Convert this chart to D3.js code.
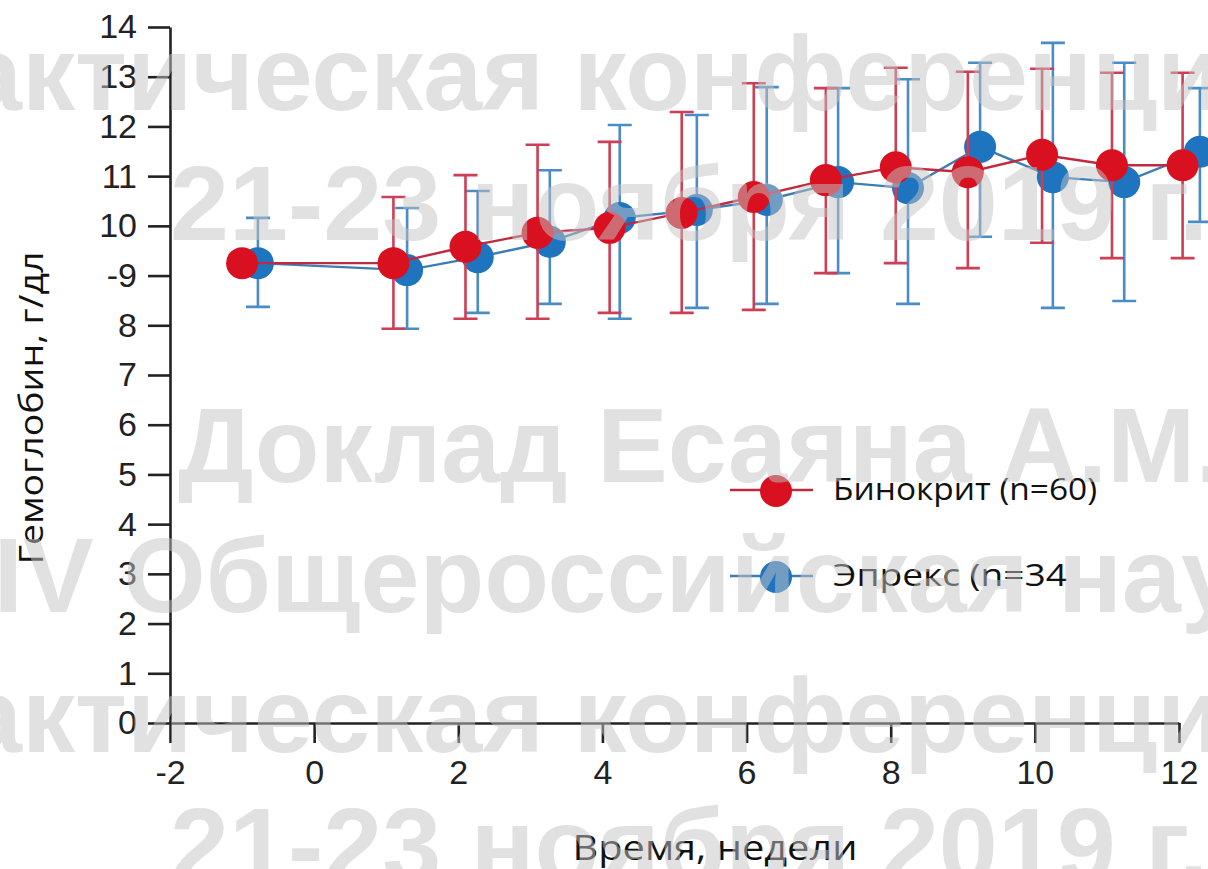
<!DOCTYPE html>
<html>
<head>
<meta charset="utf-8">
<script src="https://cdn.jsdelivr.net/npm/d3@7"></script>
<style>
  body { margin: 0; background: #fff; }
  svg { display: block; }
</style>
</head>
<body>
<div id="chart"></div>
<script>
// Бинокрит (n=60)
const weeksBino = [-1, 1.1, 2.1, 3.1, 4.1, 5.1, 6.1, 7.1, 8.07, 9.07, 10.1, 11.07, 12.05];
const hbBino    = [9.25, 9.25, 9.58, 9.86, 9.96, 10.26, 10.58, 10.92, 11.18, 11.08, 11.43, 11.22, 11.22];
const hbBinoHi  = [null, 10.58, 11.02, 11.63, 11.69, 12.29, 12.87, 12.77, 13.18, 13.10, 13.16, 13.08, 13.08];
const hbBinoLo  = [null, 7.93, 8.13, 8.13, 8.25, 8.25, 8.31, 9.05, 9.25, 9.15, 9.66, 9.35, 9.35];

// Эпрекс (n=34)
const weeksEpr = [-0.78, 1.29, 2.27, 3.27, 4.24, 5.31, 6.28, 7.27, 8.24, 9.24, 10.25, 11.24, 12.29];
const hbEpr    = [9.25, 9.11, 9.37, 9.68, 10.16, 10.32, 10.52, 10.88, 10.76, 11.59, 10.98, 10.88, 11.49];
const hbEprHi  = [10.16, 10.36, 10.70, 11.12, 12.03, 12.23, 12.79, 12.77, 12.95, 13.28, 13.68, 13.28, 12.77];
const hbEprLo  = [8.37, 7.93, 8.25, 8.43, 8.13, 8.35, 8.43, 9.05, 8.43, 9.78, 8.35, 8.49, 10.08];

const xTickValues = [-2, 0, 2, 4, 6, 8, 10, 12];
const xTickLabels = ['-2', '0', '2', '4', '6', '8', '10', '12'];
const yTickLabels = ['0', '1', '2', '3', '4', '5', '6', '7', '8', '-9', '10', '11', '12', '13', '14'];

const seriesNames = ['Бинокрит (n=60)', 'Эпрекс (n=34'];
const xTitle = 'Время,  недели';
const yTitle = 'Гемоглобин, г/дл';

const watermarkLines = [
  'научно-практическая конференция',
  '21-23 ноября 2019 г.',
  'Доклад Есаяна А.М.',
  'IV Общероссийская научно-практическая'
];

const width = 1208;
const height = 869;

const svg = d3.select('#chart')
  .append('svg')
    .attr('width', width)
    .attr('height', height);

const x = d3.scaleLinear().domain([-2, 12]).range([170, 1179]);
const y = d3.scaleLinear().domain([0, 14]).range([723, 27]);

// axes
const axisFont = 'Liberation Sans, Arial, sans-serif';

svg.append('g')
    .attr('transform', 'translate(170,0)')
    .call(d3.axisLeft(y)
      .tickValues(d3.range(15))
      .tickFormat(d => yTickLabels[d])
      .tickSize(22)
      .tickSizeOuter(0)
      .tickPadding(11))
    .call(g => g.selectAll('text').attr('font-size', 34).attr('font-family', axisFont).attr('fill', '#222'));

svg.append('g')
    .attr('transform', 'translate(0,723)')
    .call(d3.axisBottom(x)
      .tickValues(xTickValues)
      .tickFormat((d, i) => xTickLabels[i])
      .tickSize(20)
      .tickSizeOuter(0)
      .tickPadding(17))
    .call(g => g.selectAll('text').attr('font-size', 34).attr('font-family', axisFont).attr('fill', '#222'));

svg.selectAll('.domain, .tick line')
  .attr('stroke', '#222')
  .attr('stroke-width', 2.6);

// series
const drawSeries = (xs, ys, hi, lo, c) => {
  const g = svg.append('g');
  const pts = xs.map((d, i) => ({x: d, y: ys[i], hi: hi[i], lo: lo[i]}));
  const withErr = pts.filter(d => d.hi != null);

  g.selectAll('.err')
    .data(withErr)
    .enter()
      .append('path')
      .attr('class', 'err')
      .attr('fill', 'none')
      .attr('stroke', c.bar)
      .attr('stroke-width', 2.6)
      .attr('d', d => {
        const px = x(d.x), t = y(d.hi), b = y(d.lo);
        return `M${px - 12},${t}H${px + 12}M${px},${t}V${b}M${px - 12},${b}H${px + 12}`;
      });

  g.append('path')
    .datum(pts)
    .attr('fill', 'none')
    .attr('stroke', c.line)
    .attr('stroke-width', 2.4)
    .attr('d', d3.line().x(d => x(d.x)).y(d => y(d.y)));

  g.selectAll('.dot')
    .data(pts)
    .enter()
      .append('circle')
      .attr('class', 'dot')
      .attr('cx', d => x(d.x))
      .attr('cy', d => y(d.y))
      .attr('r', 16)
      .attr('fill', c.fill);
};

const blue = {fill: '#1f74c0', line: '#3c7db5', bar: '#4a8cc6'};
const red = {fill: '#d8101f', line: '#c02a40', bar: '#cc3f55'};

drawSeries(weeksEpr, hbEpr, hbEprHi, hbEprLo, blue);
drawSeries(weeksBino, hbBino, hbBinoHi, hbBinoLo, red);

// legend
const textFont = 'Open Sans, Noto Sans, sans-serif';
const legend = [
  {name: seriesNames[0], c: red, y: 490, len: 264},
  {name: seriesNames[1], c: blue, y: 576, len: 234}
];
legend.forEach(l => {
  svg.append('line')
    .attr('x1', 730).attr('x2', 813)
    .attr('y1', l.y).attr('y2', l.y)
    .attr('stroke', l.c.line)
    .attr('stroke-width', 2.4);
  svg.append('circle')
    .attr('cx', 776).attr('cy', l.y + 1)
    .attr('r', 16)
    .attr('fill', l.c.fill);
  svg.append('text')
    .attr('x', 833).attr('y', l.y + 10)
    .attr('font-family', textFont)
    .attr('font-size', 31)
    .attr('fill', '#111')
    .attr('textLength', l.len)
    .attr('lengthAdjust', 'spacingAndGlyphs')
    .text(l.name);
});

// axis titles
svg.append('text')
  .attr('x', 715).attr('y', 860)
  .attr('text-anchor', 'middle')
  .attr('font-family', textFont)
  .attr('font-size', 34)
  .attr('fill', '#111')
  .attr('textLength', 285)
  .attr('lengthAdjust', 'spacingAndGlyphs')
  .text(xTitle);

svg.append('text')
  .attr('transform', 'translate(43,408) rotate(-90)')
  .attr('text-anchor', 'middle')
  .attr('font-family', textFont)
  .attr('font-size', 33)
  .attr('fill', '#111')
  .attr('textLength', 313)
  .attr('lengthAdjust', 'spacingAndGlyphs')
  .text(yTitle);

// watermark overlay
const wm = svg.append('g')
  .attr('font-family', 'Liberation Sans, Arial, sans-serif')
  .attr('font-weight', 'bold')
  .attr('font-size', 106)
  .attr('fill', '#c4c4c4')
  .attr('opacity', 0.5)
  .style('pointer-events', 'none');

const placeWm = (str, key, ax, base) => {
  const t = wm.append('text').attr('x', 0).attr('y', base).text(str);
  const off = t.node().getStartPositionOfChar(str.indexOf(key)).x;
  t.attr('x', ax - off);
};

placeWm(watermarkLines[0], 'ктическая', 22, 110);
placeWm(watermarkLines[1], '21', 170, 240);
placeWm(watermarkLines[2], 'Д', 178, 482);
placeWm(watermarkLines[3], 'V', 23, 612);
placeWm(watermarkLines[0], 'ктическая', 22, 752);
placeWm(watermarkLines[1], '21', 170, 882);
</script>
</body>
</html>
